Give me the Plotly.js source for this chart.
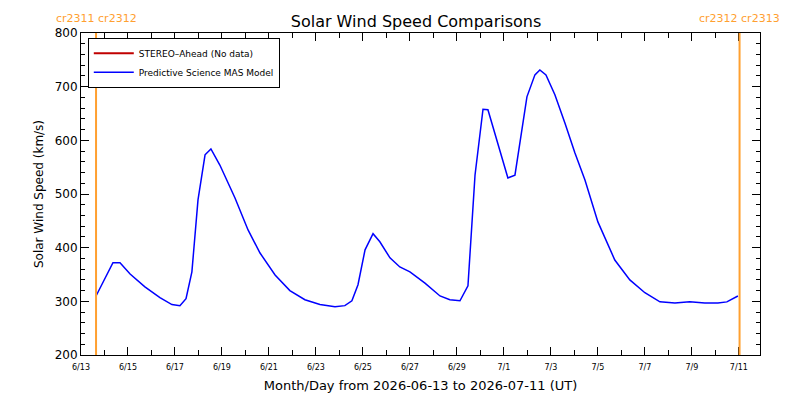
<!DOCTYPE html><html><head><script src="https://cdn.plot.ly/plotly-3.0.1.min.js"></script></head><body style="margin:0"><div id="c" style="width:800px;height:400px"></div><script>
const days=[0.64,0.89,1.36,1.66,2.09,2.72,3.36,3.87,4.21,4.47,4.72,4.98,5.28,5.53,5.91,6.55,7.11,7.62,8.26,8.89,9.53,10.17,10.81,11.23,11.53,11.79,12.09,12.43,12.72,13.15,13.57,14.0,14.64,15.28,15.70,16.13,16.47,16.77,17.11,17.32,17.70,18.17,18.47,18.98,19.32,19.53,19.79,20.17,20.60,21.02,21.45,22.0,22.72,23.36,24.0,24.64,25.28,25.91,26.55,27.11,27.49,27.96];
const speed=[310,331,372,372,351,327,307,294,292,305,355,489,573,584,554,493,433,390,349,320,303,294,290,292,301,331,396,426,411,381,364,355,334,310,303,301,329,535,658,657,601,530,535,681,722,731,722,685,632,577,526,448,377,340,316,299,297,299,297,297,299,310];
const tickDays=[0,2,4,6,8,10,12,14,16,18,20,22,24,26,28];
const tickLabels=['6/13','6/15','6/17','6/19','6/21','6/23','6/25','6/27','6/29','7/1','7/3','7/5','7/7','7/9','7/11'];
const crDays=[0.64,28.03];
const crLeft=['cr2311 cr2312','cr2312 cr2313'];
const F='DejaVu Sans';
const orange='#ffa030';
Plotly.newPlot('c',[
{x:[null],y:[null],mode:'lines',line:{color:'#c00000',width:2},name:'STEREO\u2013Ahead (No data)'},
{x:days,y:speed,mode:'lines',line:{color:'#0000ff',width:1.5},name:'Predictive Science MAS Model'}
],{
width:800,height:400,margin:{l:81,r:40,t:33,b:45},paper_bgcolor:'#fff',plot_bgcolor:'#fff',
font:{family:F,size:10,color:'#000'},
title:{text:'Solar Wind Speed Comparisons',font:{size:16},x:0.52,y:0.96},
showlegend:true,
legend:{x:0.01,y:0.985,xanchor:'left',yanchor:'top',bordercolor:'#000',borderwidth:1,font:{size:9},tracegroupgap:0,itemwidth:40,bgcolor:'#fff'},
xaxis:{range:[0,28.9],tickvals:tickDays,ticktext:tickLabels,ticks:'inside',ticklen:8,tickcolor:'#000',showline:true,linecolor:'#000',mirror:'allticks',showgrid:false,zeroline:false,tickfont:{size:8},ticklabelstandoff:4,
 minor:{dtick:1,tick0:0,ticks:'inside',ticklen:5,tickcolor:'#000'},
 title:{text:'Month/Day from 2026-06-13 to 2026-07-11 (UT)',font:{size:13},standoff:10}},
yaxis:{range:[200,800],dtick:100,ticks:'inside',ticklen:8,tickcolor:'#000',showline:true,linecolor:'#000',mirror:'allticks',showgrid:false,zeroline:false,tickfont:{size:12},
 minor:{dtick:20,ticks:'inside',ticklen:4,tickcolor:'#000'},
 title:{text:'Solar Wind Speed (km/s)',font:{size:12},standoff:8}},
shapes:crDays.map(d=>({type:'line',xref:'x',yref:'paper',x0:d,x1:d,y0:0,y1:1,line:{color:orange,width:2}})),
annotations:crDays.map((d,i)=>({xref:'x',yref:'paper',x:d,y:1.02,yanchor:'bottom',xanchor:'center',text:crLeft[i],showarrow:false,font:{color:orange,size:11}}))
},{displayModeBar:false});
</script></body></html>
